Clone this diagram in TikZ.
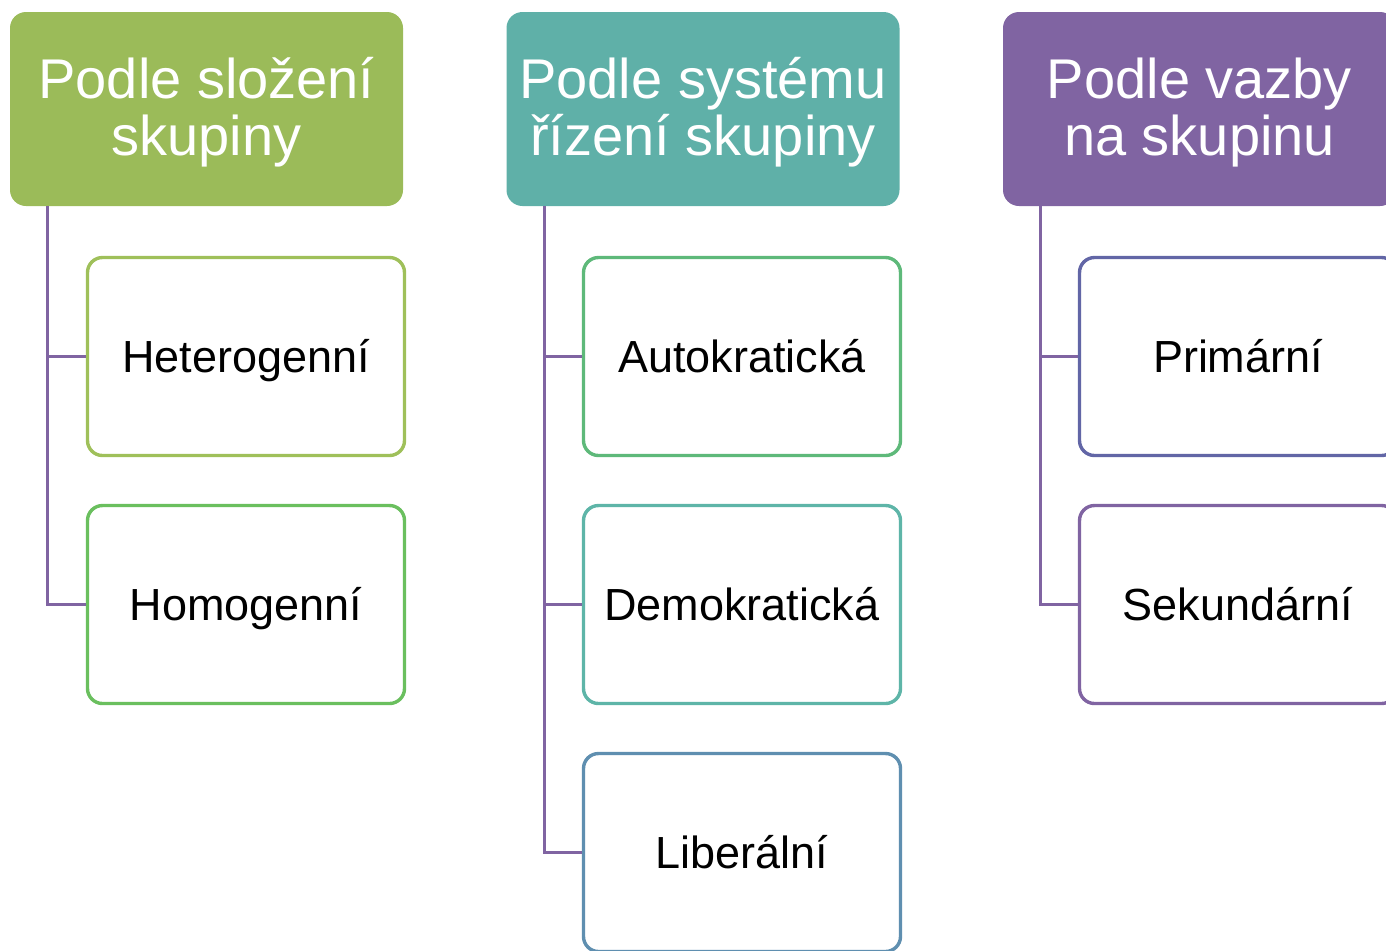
\documentclass[tikz,border=0pt]{standalone}
\usepackage{fontspec}
\setmainfont{Liberation Sans}
\definecolor{cgreen}{HTML}{9BBB59}
\definecolor{cteal}{HTML}{5FB0A8}
\definecolor{cpurple}{HTML}{8064A2}
\definecolor{bHet}{HTML}{9FC05A}
\definecolor{bHom}{HTML}{6ABF5E}
\definecolor{bAut}{HTML}{5EB97A}
\definecolor{bDem}{HTML}{5EB5A8}
\definecolor{bLib}{HTML}{5F8FB0}
\definecolor{bPri}{HTML}{6266A6}
\definecolor{bSek}{HTML}{8064A2}
\tikzset{
  head/.style={fill=#1, draw=none, rounded corners=8pt, minimum width=196.5pt, minimum height=97pt, inner sep=0pt},
  child/.style={draw=#1, line width=1.7pt, fill=white, rounded corners=7.5pt, minimum width=158.5pt, minimum height=99pt, inner sep=0pt},
  conn/.style={draw=cpurple, line width=1.5pt},
  htext/.style={inner sep=0pt, anchor=base, text=white, font=\fontsize{28}{27.5}\selectfont},
  ctext/.style={inner sep=0pt, anchor=base, font=\fontsize{22.5}{26}\selectfont}
}
\newcommand{\twolines}[2]{\begin{tabular}[t]{@{}c@{}}#1\\#2\end{tabular}}
\begin{document}
\begin{tikzpicture}[x=0.5pt,y=-0.5pt]
\useasboundingbox (0,0) rectangle (1386,950);
\clip (0,0) rectangle (1386,950);
% headers
\node[head=cgreen] (h1) at (206.5,109) {};
\node[head=cteal] (h2) at (703,109) {};
\node[head=cpurple] (h3) at (1199.5,109) {};
\node[htext] (h1t) at (206.5,98) {\twolines{Podle složení}{skupiny}};
\node[htext] (h2t) at (703,98) {\twolines{Podle systému}{řízení skupiny}};
\node[htext] (h3t) at (1199.5,98) {\twolines{Podle vazby}{na skupinu}};
% connector anchor coordinates
\coordinate (t1) at (47,206);
\coordinate (t2) at (544,206);
\coordinate (t3) at (1040,206);
% children
\node[child=bHet] (c11) at (246,356.5) {};
\node[child=bHom] (c12) at (246,604.5) {};
\node[child=bAut] (c21) at (742,356.5) {};
\node[child=bDem] (c22) at (742,604.5) {};
\node[child=bLib] (c23) at (742,852.5) {};
\node[child=bPri] (c31) at (1238,356.5) {};
\node[child=bSek] (c32) at (1238,604.5) {};
\node[ctext] (l11) at (246,372) {Heterogenní};
\node[ctext] (l12) at (246,620) {Homogenní};
\node[ctext] (l21) at (742,372) {Autokratická};
\node[ctext] (l22) at (742,620) {Demokratická};
\node[ctext] (l23) at (742,868) {Liberální};
\node[ctext] (l31) at (1238,372) {Primární};
\node[ctext] (l32) at (1238,620) {Sekundární};
% connectors
\draw[conn] (t1) |- (c11.west);
\draw[conn] (t1) |- (c12.west);
\draw[conn] (t2) |- (c21.west);
\draw[conn] (t2) |- (c22.west);
\draw[conn] (t2) |- (c23.west);
\draw[conn] (t3) |- (c31.west);
\draw[conn] (t3) |- (c32.west);
\end{tikzpicture}
\end{document}
